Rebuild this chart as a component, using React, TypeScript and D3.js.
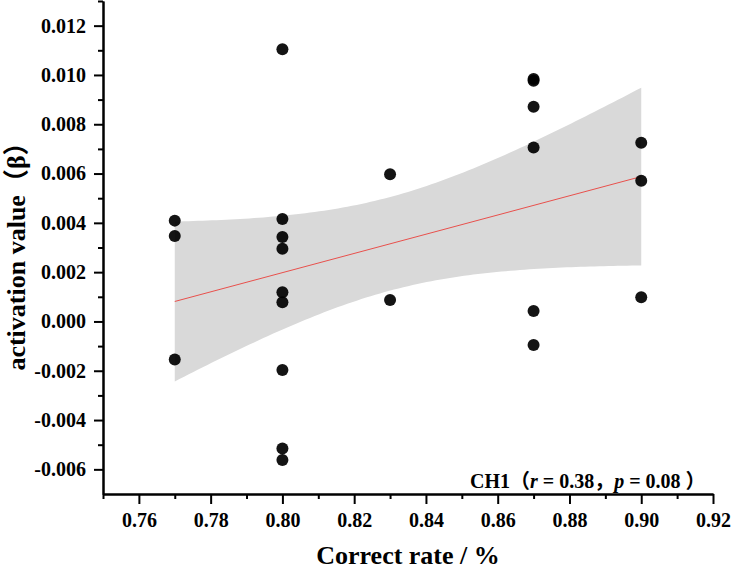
import React, { useEffect, useRef } from 'react';
import * as d3 from 'd3';

// accuracy per subject and CH1 activation (beta)
const correctRate = [
	0.77, 0.77, 0.77,
	0.80, 0.80, 0.80, 0.80, 0.80, 0.80, 0.80, 0.80, 0.80,
	0.83, 0.83,
	0.87, 0.87, 0.87, 0.87, 0.87, 0.87,
	0.90, 0.90, 0.90
];
const activation = [
	0.00409, 0.00347, -0.00154,
	0.01104, 0.00416, 0.00343, 0.00295, 0.00118, 0.00078, -0.00197, -0.00515, -0.00562,
	0.00597, 0.00087,
	0.00984, 0.00976, 0.00871, 0.00706, 0.00042, -0.00096,
	0.00725, 0.00571, 0.00098
];

const xMajor = [0.76, 0.78, 0.80, 0.82, 0.84, 0.86, 0.88, 0.90, 0.92];
const xMinor = [0.75, 0.77, 0.79, 0.81, 0.83, 0.85, 0.87, 0.89, 0.91];
const yMajor = [-0.006, -0.004, -0.002, 0, 0.002, 0.004, 0.006, 0.008, 0.010, 0.012];
const yMinor = [-0.005, -0.003, -0.001, 0.001, 0.003, 0.005, 0.007, 0.009, 0.011, 0.013];

const T_CRIT = 2.08; // two-sided 95%, df = 21
const FONT = '"Liberation Serif", "Times New Roman", serif';
const NOTE_FONT = '"Liberation Serif", "Noto Sans CJK SC", serif';

const W = 734;
const H = 571;

const drawChart = (svgEl) => {
	const svg = d3.select(svgEl);
	svg.selectAll('*').remove();

	const x = d3.scaleLinear().domain([0.75, 0.92]).range([103, 713]);
	const y = d3.scaleLinear().domain([-0.007, 0.013]).range([494, 1]);

	// least squares fit + confidence band
	const pts = correctRate.map((cx, i) => ({ cx, cy: activation[i] }));
	const n = pts.length;
	const mx = d3.mean(correctRate);
	const my = d3.mean(activation);
	const sxx = d3.sum(correctRate, (v) => (v - mx) ** 2);
	const sxy = d3.sum(pts, (d) => (d.cx - mx) * (d.cy - my));
	const slope = sxy / sxx;
	const icpt = my - slope * mx;
	const sse = d3.sum(pts, (d) => (d.cy - (icpt + slope * d.cx)) ** 2);
	const s = Math.sqrt(sse / (n - 2));
	const [x0, x1] = d3.extent(correctRate);
	const grid = d3.range(0, 101).map((k) => x0 + (x1 - x0) * k / 100);
	const band = grid.map((gx) => {
		const fit = icpt + slope * gx;
		const half = T_CRIT * s * Math.sqrt(1 / n + (gx - mx) ** 2 / sxx);
		return { gx, lo: fit - half, hi: fit + half };
	});

	svg.append('path')
		.datum(band)
		.attr('fill', '#d9d9d9')
		.attr('d', d3.area()
			.x((d) => x(d.gx))
			.y0((d) => y(d.lo))
			.y1((d) => y(d.hi)));

	svg.append('line')
		.attr('x1', x(x0))
		.attr('x2', x(x1))
		.attr('y1', y(icpt + slope * x0))
		.attr('y2', y(icpt + slope * x1))
		.attr('stroke', '#e8504c')
		.attr('stroke-width', 1);

	svg.append('g')
		.selectAll('circle')
		.data(pts)
		.enter()
		.append('circle')
		.attr('cx', (d) => x(d.cx))
		.attr('cy', (d) => y(d.cy))
		.attr('r', 6)
		.attr('fill', '#000')
		.attr('fill-opacity', 0.92);

	// axes
	const fmtX = (d) => d.toFixed(2);
	const fmtY = (d) => d.toFixed(3);

	const gx = svg.append('g').attr('transform', `translate(0, ${ y.range()[0] })`);
	gx.append('g').call(d3.axisBottom(x).tickValues(xMinor).tickSize(5).tickSizeOuter(0).tickFormat(() => ''));
	gx.append('g').call(d3.axisBottom(x).tickValues(xMajor).tickSize(10).tickSizeOuter(0).tickPadding(9).tickFormat(fmtX));

	const gy = svg.append('g').attr('transform', `translate(${ x.range()[0] }, 0)`);
	gy.append('g').call(d3.axisLeft(y).tickValues(yMinor).tickSize(5).tickSizeOuter(0).tickFormat(() => ''));
	gy.append('g').call(d3.axisLeft(y).tickValues(yMajor).tickSize(9).tickSizeOuter(0).tickPadding(8).tickFormat(fmtY));

	svg.selectAll('.domain, .tick line')
		.attr('stroke', '#000')
		.attr('stroke-width', 2);
	svg.selectAll('.tick text')
		.attr('fill', '#000')
		.attr('font-family', FONT)
		.attr('font-weight', 'bold')
		.attr('font-size', 20);

	// titles
	svg.append('text')
		.attr('x', 408)
		.attr('y', 564)
		.attr('text-anchor', 'middle')
		.attr('font-family', FONT)
		.attr('font-weight', 'bold')
		.attr('font-size', 26)
		.text('Correct rate / %');

	svg.append('text')
		.attr('transform', 'translate(25, 250) rotate(-90)')
		.attr('text-anchor', 'middle')
		.attr('font-family', NOTE_FONT)
		.attr('font-weight', 'bold')
		.attr('font-size', 26)
		.text('activation value（β）');

	const note = svg.append('text')
		.attr('x', 470)
		.attr('y', 488)
		.attr('font-family', NOTE_FONT)
		.attr('font-weight', 'bold')
		.attr('font-size', 20);
	note.append('tspan').text('CH1（');
	note.append('tspan').attr('font-style', 'italic').text('r');
	note.append('tspan').text(' = 0.38，');
	note.append('tspan').attr('font-style', 'italic').text('p');
	note.append('tspan').text(' = 0.08 ）');
};

const App = () => {
	const ref = useRef(null);

	useEffect(() => {
		document.body.style.margin = '0';
		drawChart(ref.current);
	}, []);

	return (
		<svg ref={ ref } width={ W } height={ H } style={ { display: 'block', background: '#fff' } }/>
	);
};

export default App;
